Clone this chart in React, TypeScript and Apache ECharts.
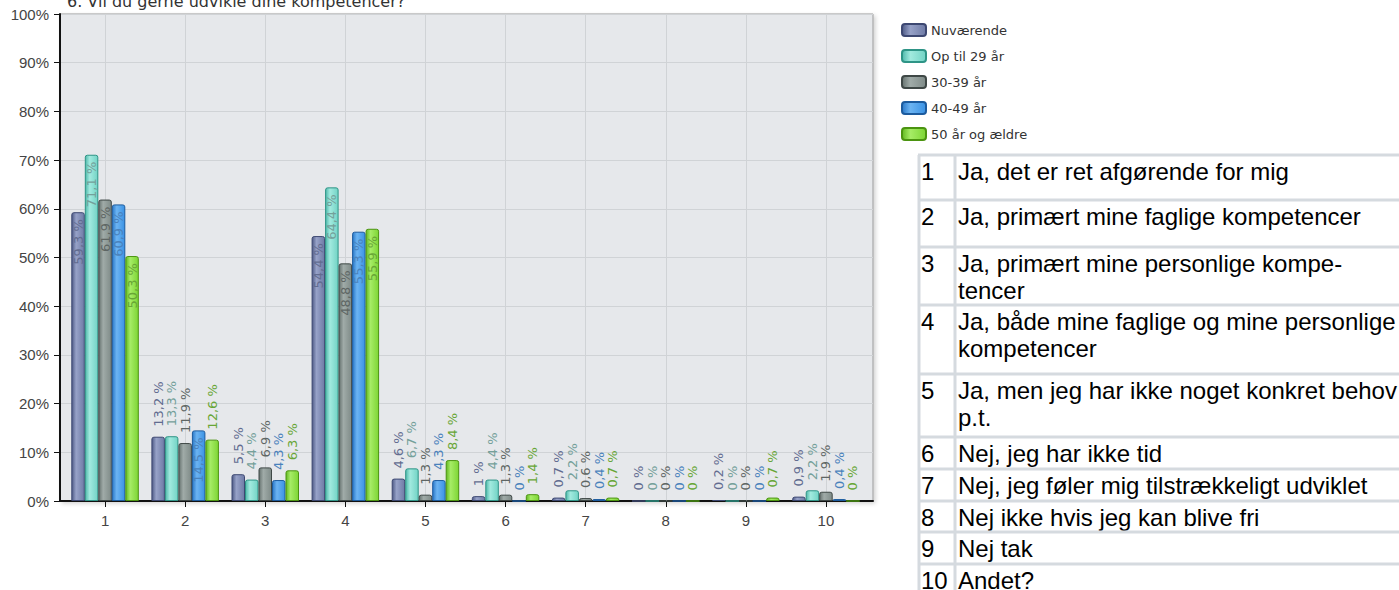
import React, { useEffect, useRef } from "react";
import * as echarts from "echarts";

// Survey question and answer options
const title = "6. Vil du gerne udvikle dine kompetencer?";
const categories = ["1", "2", "3", "4", "5", "6", "7", "8", "9", "10"];
const answers = [
  "Ja, det er ret afgørende for mig",
  "Ja, primært mine faglige kompetencer",
  "Ja, primært mine personlige kompe-\ntencer",
  "Ja, både mine faglige og mine personlige\nkompetencer",
  "Ja, men jeg har ikke noget konkret behov\np.t.",
  "Nej, jeg har ikke tid",
  "Nej, jeg føler mig tilstrækkeligt udviklet",
  "Nej ikke hvis jeg kan blive fri",
  "Nej tak",
  "Andet?",
];

// Share of respondents (%) per answer, by age group
const seriesNames = ["Nuværende", "Op til 29 år", "30-39 år", "40-49 år", "50 år og ældre"];
const nuvaerende = [59.3, 13.2, 5.5, 54.4, 4.6, 1, 0.7, 0, 0.2, 0.9];
const opTil29 = [71.1, 13.3, 4.4, 64.4, 6.7, 4.4, 2.2, 0, 0, 2.2];
const aar30til39 = [61.9, 11.9, 6.9, 48.8, 1.3, 1.3, 0.6, 0, 0, 1.9];
const aar40til49 = [60.9, 14.5, 4.3, 55.3, 4.3, 0, 0.4, 0, 0, 0.4];
const aar50plus = [50.3, 12.6, 6.3, 55.9, 8.4, 1.4, 0.7, 0, 0.7, 0];
const yTicks = [0, 10, 20, 30, 40, 50, 60, 70, 80, 90, 100];

const seriesValues = [nuvaerende, opTil29, aar30til39, aar40til49, aar50plus];

// Bar look per series: dark edge, highlight, base fill, border, label colour
const palette = [
  { dark: "#4e5a86", light: "#97a2c8", base: "#6f7ba6", border: "#3d4872", label: "#626c90" },
  { dark: "#4fb8aa", light: "#a2eadf", base: "#72d3c5", border: "#2e9486", label: "#74a09a" },
  { dark: "#66726f", light: "#a0aba8", base: "#7f8b88", border: "#3f4846", label: "#5e6664" },
  { dark: "#2a78c8", light: "#6cb4f2", base: "#3a92e4", border: "#1c5b9e", label: "#4a82bc" },
  { dark: "#62b820", light: "#a6ec66", base: "#7dd534", border: "#4b9410", label: "#68a636" },
];

const CHART_FONT = "'DejaVu Sans', Verdana, sans-serif";
const AXIS_FONT = "'Liberation Sans', Arial, sans-serif";
const TABLE_FONT = "'Liberation Sans', Arial, sans-serif";

const fmt = (v: number) => String(v).replace(".", ",") + " %";

function buildTable() {
  const rowHeights = [45, 47, 58, 69, 63, 32, 32, 31, 32, 40];
  const left = 919;
  const split = 955;
  const top = 155;
  const lineColor = "#d5dadf";
  const els: any[] = [];
  let y = top;
  answers.forEach((txt, i) => {
    els.push({
      type: "line",
      shape: { x1: left - 1, y1: y, x2: 1399, y2: y },
      style: { stroke: lineColor, lineWidth: 3 },
    });
    els.push({
      type: "text",
      x: 921,
      y: y + 3,
      style: {
        text: categories[i],
        font: `24px ${TABLE_FONT}`,
        fill: "#000",
        lineHeight: 27,
        verticalAlign: "top",
      },
    });
    els.push({
      type: "text",
      x: 958,
      y: y + 3,
      style: {
        text: txt,
        font: `24px ${TABLE_FONT}`,
        fill: "#000",
        lineHeight: 27,
        verticalAlign: "top",
      },
    });
    y += rowHeights[i];
  });
  els.push({
    type: "line",
    shape: { x1: left, y1: top, x2: left, y2: 590 },
    style: { stroke: lineColor, lineWidth: 3 },
  });
  els.push({
    type: "line",
    shape: { x1: split, y1: top, x2: split, y2: 590 },
    style: { stroke: lineColor, lineWidth: 3 },
  });
  return els;
}

export default function App() {
  const ref = useRef<HTMLDivElement>(null);

  useEffect(() => {
    if (!ref.current) return;
    const chart = echarts.init(ref.current, null, { renderer: "svg" });

    const series = seriesNames.map((name, si) => {
      const c = palette[si];
      const outside = {
        show: true,
        position: "top",
        distance: 10,
        rotate: 90,
        align: "left",
        verticalAlign: "middle",
        color: c.label,
        fontSize: 13,
        fontFamily: CHART_FONT,
        formatter: (p: any) => fmt(p.value),
      };
      const inside = { ...outside, position: "insideTop", distance: 7, align: "right" };
      return {
        name,
        type: "bar",
        xAxisIndex: 1,
        yAxisIndex: 1,
        barWidth: 13.5,
        barGap: "0%",
        itemStyle: {
          color: new echarts.graphic.LinearGradient(0, 0, 1, 0, [
            { offset: 0, color: c.dark },
            { offset: 0.35, color: c.light },
            { offset: 1, color: c.base },
          ]),
          borderColor: c.border,
          borderWidth: 1,
          borderRadius: [2, 2, 0, 0],
        },
        label: outside,
        data: seriesValues[si].map((v) => (v >= 14 ? { value: v, label: inside } : { value: v })),
      };
    });

    chart.setOption({
      animation: false,
      backgroundColor: "#fff",
      textStyle: { fontFamily: CHART_FONT },
      graphic: [
        {
          type: "text",
          x: 67,
          y: 1,
          style: {
            text: title,
            font: `16px ${CHART_FONT}`,
            fill: "#333",
            verticalAlign: "middle",
          },
        },
        ...buildTable(),
      ],
      legend: {
        orient: "vertical",
        left: 896,
        top: 18,
        itemWidth: 24,
        itemHeight: 12,
        itemGap: 12,
        icon: "roundRect",
        textStyle: { fontSize: 13, color: "#333", fontFamily: CHART_FONT },
        data: seriesNames,
      },
      grid: [
        {
          left: 60,
          top: 14,
          width: 813,
          height: 487,
          show: true,
          backgroundColor: "#e6e8eb",
          borderColor: "#9a9a9a",
          borderWidth: 1,
          shadowColor: "rgba(0,0,0,0.18)",
          shadowBlur: 4,
          shadowOffsetX: 2,
          shadowOffsetY: 2,
        },
        { left: 65, top: 14, width: 801, height: 487 },
      ],
      xAxis: [
        {
          gridIndex: 0,
          type: "value",
          min: 0,
          max: 1,
          axisLine: { show: true, lineStyle: { color: "#111", width: 2 } },
          axisTick: { show: false },
          axisLabel: { show: false },
          splitLine: { show: false },
        },
        {
          gridIndex: 1,
          type: "category",
          data: categories,
          position: "bottom",
          axisLine: { show: false },
          axisTick: { show: true, alignWithLabel: true, length: 6, lineStyle: { color: "#111" } },
          axisLabel: { color: "#444", fontSize: 15, margin: 12, fontFamily: AXIS_FONT },
          splitLine: { show: false },
        },
        {
          // vertical guide lines through the category centres
          gridIndex: 1,
          type: "category",
          data: categories,
          position: "top",
          axisLine: { show: false },
          axisTick: {
            show: true,
            inside: true,
            alignWithLabel: true,
            length: 487,
            lineStyle: { color: "#d0d3d6", width: 1 },
          },
          axisLabel: { show: false },
          splitLine: { show: false },
        },
      ],
      yAxis: [
        {
          gridIndex: 0,
          type: "value",
          min: yTicks[0],
          max: yTicks[yTicks.length - 1],
          interval: yTicks[1] - yTicks[0],
          axisLine: { show: true, lineStyle: { color: "#111", width: 2 } },
          axisTick: { show: true, length: 6, lineStyle: { color: "#111" } },
          axisLabel: { formatter: "{value}%", color: "#444", fontSize: 15, margin: 11, fontFamily: AXIS_FONT },
          splitLine: { show: true, lineStyle: { color: "#d0d3d6", width: 1 } },
        },
        {
          gridIndex: 1,
          type: "value",
          min: yTicks[0],
          max: yTicks[yTicks.length - 1],
          show: false,
          splitLine: { show: false },
        },
      ],
      series,
    });

    return () => chart.dispose();
  }, []);

  return (
    <div
      ref={ref}
      style={{ position: "fixed", left: 0, top: 0, width: 1399, height: 590, background: "#fff" }}
    />
  );
}
